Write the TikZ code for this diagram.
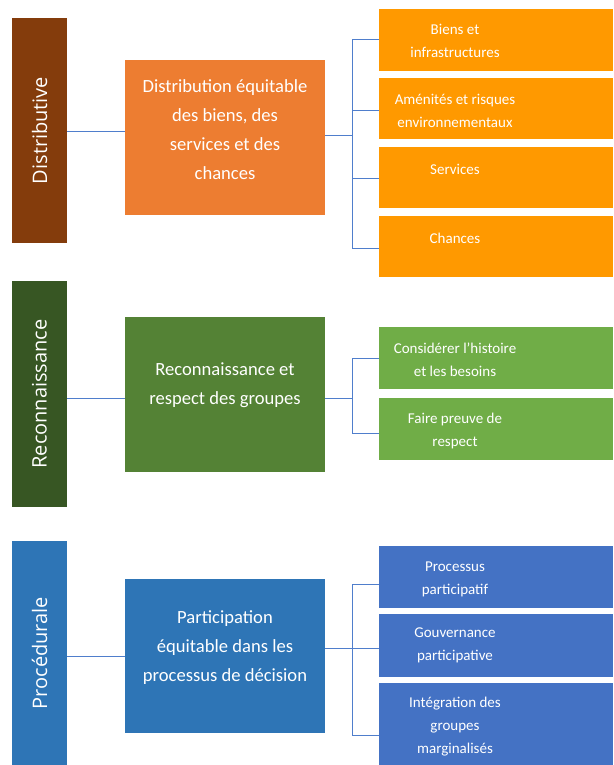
\documentclass[tikz,border=0pt]{standalone}
\usepackage{fontspec}
\setmainfont{Carlito}
\newfontfamily\barfont{Open Sans}
\definecolor{brownbar}{HTML}{843C0C}
\definecolor{orangemid}{HTML}{ED7D31}
\definecolor{orangesmall}{HTML}{FF9900}
\definecolor{greenbar}{HTML}{375623}
\definecolor{greenmid}{HTML}{548235}
\definecolor{greensmall}{HTML}{70AD47}
\definecolor{bluebar}{HTML}{2E75B6}
\definecolor{bluesmall}{HTML}{4472C4}
\definecolor{linkblue}{HTML}{4F7ECC}
\begin{document}
\begin{tikzpicture}[x=1pt,y=-1pt,
  box/.style={inner sep=0pt,outer sep=0pt,anchor=north west,draw=none},
  bartext/.style={text=white,font=\barfont\fontsize{20}{24}\selectfont,rotate=90,inner sep=0pt},
  midtext/.style={text=white,align=center,font=\fontsize{18.6}{29}\selectfont,inner sep=0pt},
  smalltext/.style={text=white,align=center,font=\fontsize{15}{23}\selectfont,inner sep=0pt},
  link/.style={draw=linkblue,line width=0.8pt}]
\useasboundingbox (0,0) rectangle (613,765);

% ---------- Section 1 ----------
\node[box,fill=brownbar,minimum width=55pt,minimum height=225pt] (bar1) at (12,18) {};
\node[bartext] (bar1t) at (bar1.center) {Distributive};
\node[box,fill=orangemid,minimum width=200pt,minimum height=155pt] (mid1) at (125,60) {};
\node[midtext] (mid1t) at (225,130) {Distribution équitable\\des biens, des\\services et des\\chances};
\node[box,fill=orangesmall,minimum width=234pt,minimum height=62pt] (s11) at (379,9) {};
\node[box,fill=orangesmall,minimum width=234pt,minimum height=61pt] (s12) at (379,78) {};
\node[box,fill=orangesmall,minimum width=234pt,minimum height=61pt] (s13) at (379,147) {};
\node[box,fill=orangesmall,minimum width=234pt,minimum height=61pt] (s14) at (379,216) {};
\node[smalltext] (s11t) at (455,40.5) {Biens et\\infrastructures};
\node[smalltext] (s12t) at (455,110.5) {Aménités et risques\\environnementaux};
\node[smalltext] (s13t) at (455,169) {Services};
\node[smalltext] (s14t) at (455,238) {Chances};

\draw[link] (bar1.east |- 0,131) -- (mid1.west |- 0,131);
\draw[link] (mid1.east |- 0,135) -- (352,135) coordinate (j1);
\draw[link] (j1) |- (s11.west |- 0,39);
\draw[link] (j1) |- (s12.west |- 0,110);
\draw[link] (j1) |- (s13.west |- 0,178);
\draw[link] (j1) |- (s14.west |- 0,248);

% ---------- Section 2 ----------
\node[box,fill=greenbar,minimum width=55pt,minimum height=226pt] (bar2) at (12,281) {};
\node[bartext] (bar2t) at (bar2.center) {Reconnaissance};
\node[box,fill=greenmid,minimum width=200pt,minimum height=155pt] (mid2) at (125,317) {};
\node[midtext] (mid2t) at (225,385) {Reconnaissance et\\respect des groupes};
\node[box,fill=greensmall,minimum width=234pt,minimum height=62pt] (s21) at (379,327) {};
\node[box,fill=greensmall,minimum width=234pt,minimum height=62pt] (s22) at (379,398) {};
\node[smalltext] (s21t) at (455,360) {Considérer l’histoire\\et les besoins};
\node[smalltext] (s22t) at (455,431) {Faire preuve de\\respect};

\draw[link] (bar2.east |- 0,398) -- (mid2.west |- 0,398);
\draw[link] (mid2.east |- 0,398) -- (352,398) coordinate (j2);
\draw[link] (j2) |- (s21.west |- 0,358);
\draw[link] (j2) |- (s22.west |- 0,433);

% ---------- Section 3 ----------
\node[box,fill=bluebar,minimum width=55pt,minimum height=224pt] (bar3) at (12,541) {};
\node[bartext] (bar3t) at (bar3.center) {Procédurale};
\node[box,fill=bluebar,minimum width=200pt,minimum height=154pt] (mid3) at (125,579) {};
\node[midtext] (mid3t) at (225,648) {Participation\\équitable dans les\\processus de décision};
\node[box,fill=bluesmall,minimum width=234pt,minimum height=62pt] (s31) at (379,546) {};
\node[box,fill=bluesmall,minimum width=234pt,minimum height=63pt] (s32) at (379,614) {};
\node[box,fill=bluesmall,minimum width=234pt,minimum height=82pt] (s33) at (379,683) {};
\node[smalltext] (s31t) at (455,579) {Processus\\participatif};
\node[smalltext] (s32t) at (455,645.5) {Gouvernance\\participative};
\node[smalltext] (s33t) at (455,726.7) {Intégration des\\groupes\\marginalisés};

\draw[link] (bar3.east |- 0,656) -- (mid3.west |- 0,656);
\draw[link] (mid3.east |- 0,648) -- (352,648) coordinate (j3);
\draw[link] (j3) |- (s31.west |- 0,584);
\draw[link] (j3) |- (s32.west |- 0,648);
\draw[link] (j3) |- (s33.west |- 0,735);
\end{tikzpicture}
\end{document}
